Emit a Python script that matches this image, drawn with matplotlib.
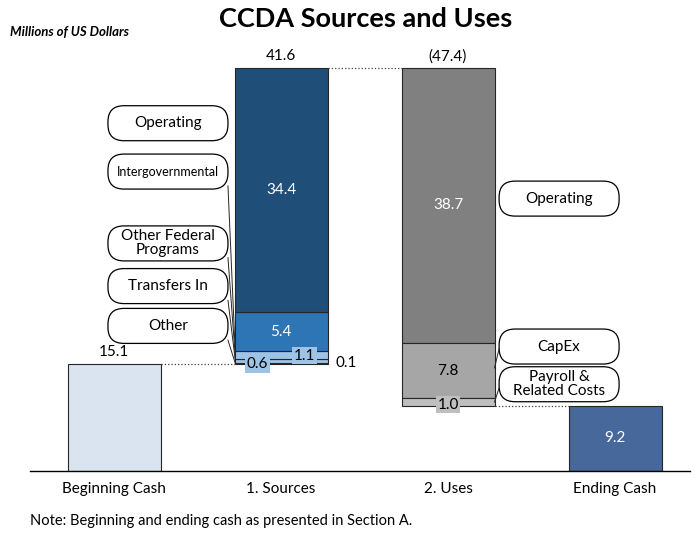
import matplotlib
matplotlib.use('Agg')
import matplotlib.pyplot as plt
from matplotlib.patches import FancyBboxPatch

plt.rcParams['font.family'] = ['Lato', 'DejaVu Sans']

#Chart data
categories = ['Beginning Cash', '1. Sources', '2. Uses', 'Ending Cash']
beginning_cash = 15.1
ending_cash = 9.2
sources_total = 41.6
uses_total = -47.4
#Segments listed from the bottom of the stack up
source_values = [0.1, 0.6, 1.1, 5.4, 34.4]
source_colors = ['#9DC3E6', '#9DC3E6', '#9DC3E6', '#2E75B6', '#1F4E79']
source_labels = ['Operating', 'Intergovernmental', 'Other Federal\nPrograms', 'Transfers In', 'Other']
#Segments listed from the top of the stack down
use_values = [38.7, 7.8, 1.0]
use_colors = ['#808080', '#A6A6A6', '#BFBFBF']
use_labels = ['Operating', 'CapEx', 'Payroll &\nRelated Costs']

edge = '#262626'
width = 0.557

fig = plt.figure(figsize=(6.98, 5.33), dpi=100)
ax = fig.add_axes([0.043, 62 / 533, 0.9456, 431 / 533])
ax.set_xlim(-0.503, 3.449)
ax.set_ylim(0, 60.6)
px_x = (3.449 + 0.503) / (0.9456 * 698)   # data units per pixel
px_y = 60.6 / 431.0

#Beginning cash
ax.bar(0, beginning_cash, width, color='#DAE3F0', edgecolor=edge, linewidth=0.8)
ax.text(0, beginning_cash + 0.6, '%.1f' % beginning_cash, ha='center', va='bottom', fontsize=11)

#Sources stack
bottom = beginning_cash
for val, col in zip(source_values, source_colors):
    ax.bar(1, val, width, bottom=bottom, color=col, edgecolor=edge, linewidth=0.8)
    bottom += val
src_top = beginning_cash + sum(source_values)
ax.text(1, src_top + 0.6, '%.1f' % sources_total, ha='center', va='bottom', fontsize=11)

#labels for the stack segments
seg_base = beginning_cash
ax.text(1 + width / 2 + 0.05, seg_base + 0.05, '%.1f' % source_values[0], ha='left', va='center', fontsize=11)
ax.text(1 - 0.14, seg_base - 0.1, '%.1f' % source_values[1], ha='center', va='center', fontsize=11,
        bbox=dict(boxstyle='square,pad=0.1', fc='#9DC3E6', ec='none'))
ax.text(1 + 0.14, seg_base + 1.1, '%.1f' % source_values[2], ha='center', va='center', fontsize=11,
        bbox=dict(boxstyle='square,pad=0.1', fc='#9DC3E6', ec='none'))
ax.text(1, seg_base + sum(source_values[:3]) + source_values[3] / 2, '%.1f' % source_values[3],
        ha='center', va='center', fontsize=11, color='white')
ax.text(1, seg_base + sum(source_values[:4]) + source_values[4] / 2, '%.1f' % source_values[4],
        ha='center', va='center', fontsize=11, color='white')

#Uses stack (hanging down from sources top)
top = src_top
for val, col in zip(use_values, use_colors):
    ax.bar(2, -val, width, bottom=top, color=col, edgecolor=edge, linewidth=0.8)
    top -= val
uses_bottom = top
ax.text(2, src_top + 0.6, '(%.1f)' % abs(uses_total), ha='center', va='bottom', fontsize=11)
ax.text(2, src_top - use_values[0] / 2, '%.1f' % use_values[0], ha='center', va='center',
        fontsize=11, color='white')
ax.text(2, src_top - use_values[0] - use_values[1] / 2, '%.1f' % use_values[1], ha='center',
        va='center', fontsize=11)
ax.text(2, uses_bottom + 0.1, '%.1f' % use_values[2], ha='center', va='center', fontsize=11,
        bbox=dict(boxstyle='square,pad=0.1', fc='#BFBFBF', ec='none'))

#Ending cash
ax.bar(3, ending_cash, width, color='#47689A', edgecolor=edge, linewidth=0.8)
ax.text(3, ending_cash / 2, '%.1f' % ending_cash, ha='center', va='center', fontsize=11, color='white')

#Dotted connectors
ax.plot([width / 2, 1 - width / 2], [beginning_cash, beginning_cash], ':', color='#404040', lw=0.9)
ax.plot([1 + width / 2, 2 - width / 2], [src_top, src_top], ':', color='#404040', lw=0.9)
ax.plot([2 + width / 2, 3 - width / 2], [uses_bottom, uses_bottom], ':', color='#404040', lw=0.9)

#Callout boxes
def callout(xc, yc, text, fs=11):
    w = 120 * px_x
    h = 35 * px_y
    box = FancyBboxPatch((xc - w / 2, yc - h / 2), w, h,
                         boxstyle='round,pad=0,rounding_size=%f' % (16 * px_x),
                         mutation_aspect=px_y / px_x, fc='white', ec='black', lw=0.9)
    ax.add_patch(box)
    ax.text(xc, yc, text, ha='center', va='center', fontsize=fs, linespacing=1.0)

src_box_x = 1 - 0.677
src_box_y = [48.9, 42.1, 32.0, 26.0, 20.4]
for i, lab in enumerate(source_labels):
    callout(src_box_x, src_box_y[i], lab, fs=9 if lab == 'Intergovernmental' else 11)
bx = src_box_x + 60 * px_x
#leader lines from the lower boxes into the thin segments
for i in range(1, 5):
    ax.plot([bx, 1 - width / 2 + 0.005], [src_box_y[i] - 2.0, beginning_cash + 1.6 - 0.4 * i],
            color='#262626', lw=0.7)

use_box_x = 2 + 0.665
use_box_y = [38.3, 17.5, 12.2]
for i, lab in enumerate(use_labels):
    callout(use_box_x, use_box_y[i], lab)
ubx = use_box_x - 60 * px_x
ax.plot([ubx, 2 + width / 2], [use_box_y[1] - 0.3, src_top - use_values[0] - 3.5], color='#262626', lw=0.7)
ax.plot([ubx, 2 + width / 2], [use_box_y[2] - 0.5, uses_bottom + 0.5], color='#262626', lw=0.7)

#Axes styling
for s in ['top', 'right', 'left']:
    ax.spines[s].set_visible(False)
ax.spines['bottom'].set_linewidth(1.0)
ax.set_yticks([])
ax.set_xticks(range(len(categories)))
ax.set_xticklabels(categories, fontsize=11)
ax.tick_params(axis='x', length=0, pad=8)

fig.text(366 / 698, 1 - 19 / 533, 'CCDA Sources and Uses', ha='center', va='center',
         fontsize=19.5, fontweight='bold')
fig.text(10 / 698, 1 - 32 / 533, 'Millions of US Dollars', ha='left', va='center',
         fontsize=9.5, fontweight='bold', style='italic')
fig.text(30 / 698, 1 - 521 / 533, 'Note: Beginning and ending cash as presented in Section A.',
         ha='left', va='center', fontsize=10.5)

fig.savefig('out.png', dpi=100)
